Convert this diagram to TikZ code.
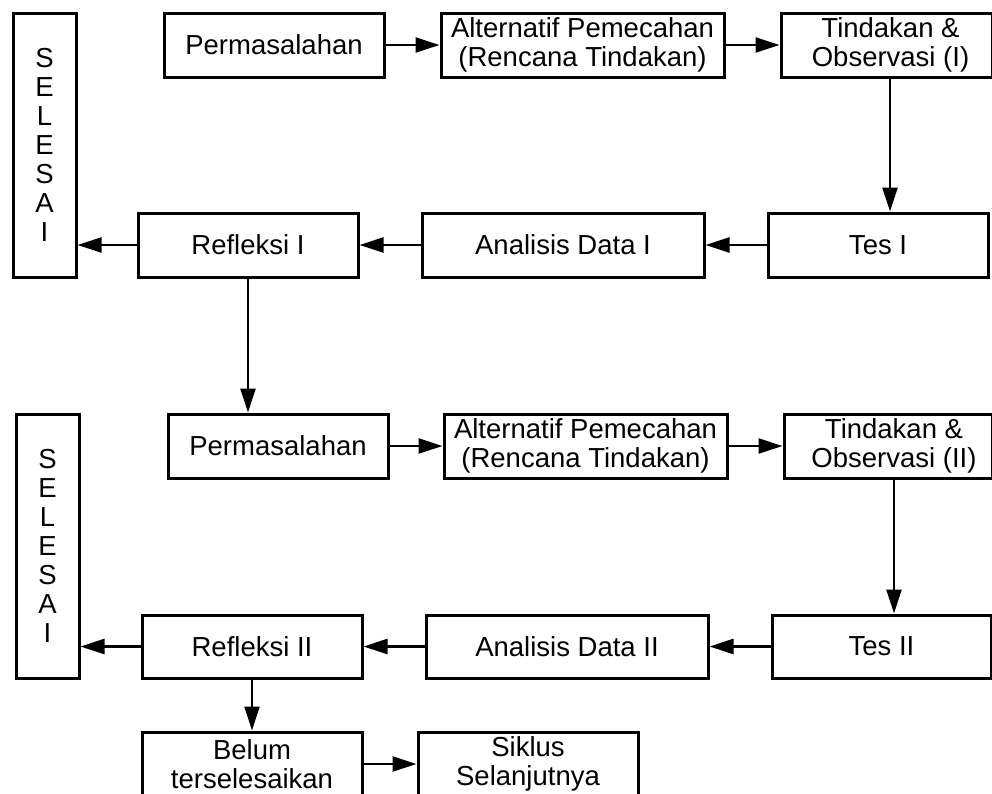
\documentclass[tikz,border=0pt]{standalone}
\usepackage{fontspec}
\setmainfont{Liberation Sans}
\usetikzlibrary{arrows.meta}
\begin{document}
\begin{tikzpicture}[x=1pt,y=-1pt,
  box/.style={draw,line width=3pt,rectangle,inner sep=0pt,align=center,
    font=\fontsize{27.5}{29}\selectfont,minimum height=64pt},
  wbox/.style={box,minimum width=220pt},
  lbox/.style={box,minimum width=283pt},
  sbox/.style={box,minimum width=63pt,minimum height=264pt},
  arr/.style={line width=2.5pt,-{Triangle[length=24pt,width=15pt]}}
]
\useasboundingbox (0,0) rectangle (992,793);
\clip (0,0) rectangle (992,793);
% cycle I
\node[sbox] (sel1) at (44.5,145) {S\\E\\L\\E\\S\\A\\I};
\node[wbox] (p1) at (274,45) {Permasalahan};
\node[lbox] (alt1) at (582.5,45) {Alternatif Pemecahan\\(Rencana Tindakan)};
\node[box,minimum width=211pt] (tin1) at (886.5,45) {\hspace*{8pt}Tindakan \&\\\hspace*{8pt}Observasi (I)};
\node[wbox] (tes1) at (878,245) {Tes I};
\node[box,minimum width=282pt] (ana1) at (563,245) {Analisis Data I};
\node[wbox] (ref1) at (248,245) {Refleksi I};
% cycle II
\node[sbox] (sel2) at (47.5,546) {S\\E\\L\\E\\S\\A\\I};
\node[wbox] (p2) at (278,446) {Permasalahan};
\node[lbox] (alt2) at (585.5,446) {Alternatif Pemecahan\\(Rencana Tindakan)};
\node[box,minimum width=208pt] (tin2) at (888,446) {\hspace*{12pt}Tindakan \&\\\hspace*{12pt}Observasi (II)};
\node[box,minimum width=219pt,minimum height=63pt] (tes2) at (881.5,646.5) {Tes II};
\node[box,minimum width=282pt,minimum height=63pt] (ana2) at (567,646.5) {Analisis Data II};
\node[wbox,minimum height=63pt] (ref2) at (252,646.5) {Refleksi II};
\node[wbox] (bel) at (252,764) {Belum\\terselesaikan};
\node[wbox] (sik) at (528,764) {Siklus\\Selanjutnya};
% connectors cycle I
\draw[arr] (p1) -- (alt1);
\draw[arr] (alt1) -- (tin1);
\draw[arr] ([xshift=3.5pt]tin1.south) -- ([xshift=3.5pt]tin1.south |- tes1.north);
\draw[arr] (tes1) -- (ana1);
\draw[arr] (ana1) -- (ref1);
\draw[arr] (ref1.west) -- (ref1.west -| sel1.east);
\draw[arr] (ref1.south) -- (ref1.south |- p2.north);
% connectors cycle II
\draw[arr] (p2) -- (alt2);
\draw[arr] (alt2) -- (tin2);
\draw[arr] ([xshift=6pt]tin2.south) -- ([xshift=6pt]tin2.south |- tes2.north);
\draw[arr] (tes2) -- (ana2);
\draw[arr] (ana2) -- (ref2);
\draw[arr] (ref2.west) -- (ref2.west -| sel2.east);
\draw[arr] (ref2) -- (bel);
\draw[arr] (bel) -- (sik);
\end{tikzpicture}
\end{document}
